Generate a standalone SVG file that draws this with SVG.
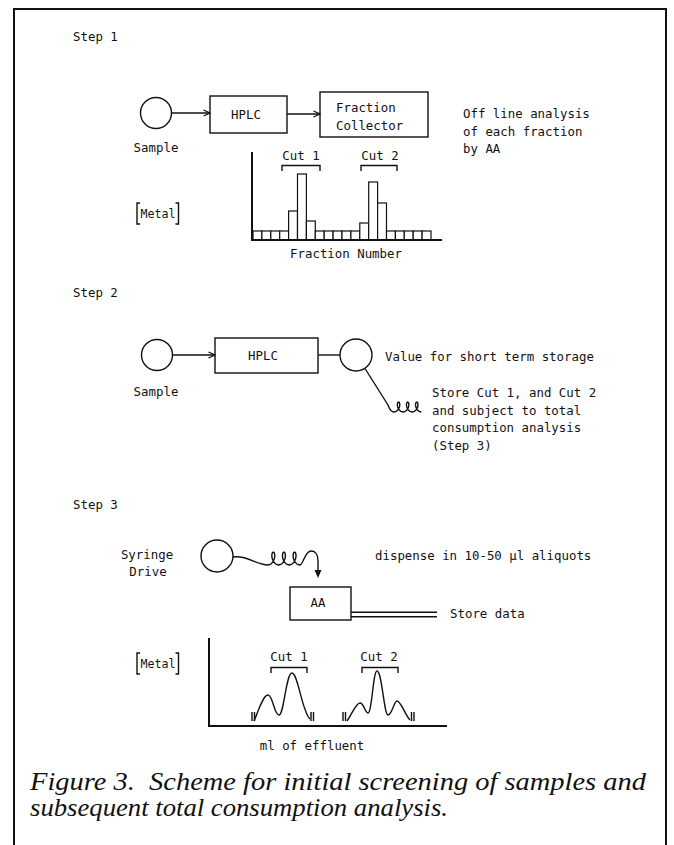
<svg xmlns="http://www.w3.org/2000/svg" width="674" height="845" viewBox="0 0 674 845">
<style>
.t{font-family:"DejaVu Sans Mono","Liberation Mono",monospace;font-size:12.4px;fill:#111}
.m{text-anchor:middle}
.cap{font-family:"Liberation Serif",serif;font-style:italic;font-size:24.5px;fill:#111}
.s{fill:none;stroke:#111;stroke-width:1.4}
.ax{fill:none;stroke:#111;stroke-width:2}
.bar{fill:#fff;stroke:#111;stroke-width:1.2}
</style>
<defs>
<marker id="chev" viewBox="0 0 8 8" refX="7.5" refY="4" markerWidth="8" markerHeight="8" markerUnits="userSpaceOnUse" orient="auto"><path d="M1,1 L7.5,4 L1,7" fill="none" stroke="#111" stroke-width="1.3"/></marker>
</defs>
<rect width="674" height="845" fill="#fff"/>
<path class="ax" d="M14,845 L14,9 L666,9 L666,845"/>

<!-- Step 1 -->
<text class="t" x="73" y="41">Step 1</text>
<g id="s1-sample"><circle class="s" cx="156" cy="113" r="15.5"/><text class="t m" x="156" y="152">Sample</text></g>
<g id="s1-hplc"><rect class="s" x="210" y="96" width="77" height="37"/><text class="t m" x="246" y="119">HPLC</text></g>
<g id="s1-fc"><rect class="s" x="320" y="92" width="108" height="45"/><text class="t" x="336" y="112">Fraction</text><text class="t" x="336" y="130">Collector</text></g>
<g id="s1-note"><text class="t" x="463" y="118">Off line analysis</text><text class="t" x="463" y="135.5">of each fraction</text><text class="t" x="463" y="153">by AA</text></g>
<g id="s1-chart">
<text class="t m" x="301" y="160">Cut 1</text>
<text class="t m" x="380" y="160">Cut 2</text>
<path class="s" d="M282,171 L282,165.5 L320,165.5 L320,171 M361,171 L361,165.5 L397,165.5 L397,171"/>
<path class="s" d="M140,203 L137,203 L137,224 L140,224 M175.5,203 L178.5,203 L178.5,224 L175.5,224"/>
<text class="t" x="140.5" y="218" textLength="35" lengthAdjust="spacingAndGlyphs">Metal</text>
<g>
<rect class="bar" x="253" y="231" width="8.9" height="9"/>
<rect class="bar" x="261.9" y="231" width="8.9" height="9"/>
<rect class="bar" x="270.8" y="231" width="8.9" height="9"/>
<rect class="bar" x="279.7" y="231" width="8.9" height="9"/>
<rect class="bar" x="288.6" y="211" width="8.9" height="29"/>
<rect class="bar" x="297.5" y="174" width="8.9" height="66"/>
<rect class="bar" x="306.4" y="221" width="8.9" height="19"/>
<rect class="bar" x="315.3" y="231" width="8.9" height="9"/>
<rect class="bar" x="324.2" y="231" width="8.9" height="9"/>
<rect class="bar" x="333.1" y="231" width="8.9" height="9"/>
<rect class="bar" x="342" y="231" width="8.9" height="9"/>
<rect class="bar" x="350.9" y="231" width="8.9" height="9"/>
<rect class="bar" x="359.8" y="223" width="8.9" height="17"/>
<rect class="bar" x="368.7" y="182" width="8.9" height="58"/>
<rect class="bar" x="377.6" y="203" width="8.9" height="37"/>
<rect class="bar" x="386.5" y="231" width="8.9" height="9"/>
<rect class="bar" x="395.4" y="231" width="8.9" height="9"/>
<rect class="bar" x="404.3" y="231" width="8.9" height="9"/>
<rect class="bar" x="413.2" y="231" width="8.9" height="9"/>
<rect class="bar" x="422.1" y="231" width="8.9" height="9"/>
</g>
<path class="ax" d="M252,152 L252,240 L442,240"/>
<text class="t m" x="346" y="258">Fraction Number</text>
</g>

<!-- Step 2 -->
<text class="t" x="73" y="297">Step 2</text>
<g id="s2-sample"><circle class="s" cx="157" cy="355" r="15.5"/><text class="t m" x="156" y="396">Sample</text></g>
<g id="s2-hplc"><rect class="s" x="215" y="338" width="103" height="35"/><text class="t m" x="263" y="360">HPLC</text></g>
<g id="s2-valve"><circle class="s" cx="356" cy="355" r="16"/><text class="t" x="385" y="361">Value for short term storage</text></g>
<g id="s2-note"><text class="t" x="432" y="397">Store Cut 1, and Cut 2</text><text class="t" x="432" y="414.5">and subject to total</text><text class="t" x="432" y="432">consumption analysis</text><text class="t" x="432" y="449.5">(Step 3)</text></g>

<!-- Step 3 -->
<text class="t" x="73" y="509">Step 3</text>
<g id="s3-syringe"><circle class="s" cx="217" cy="556" r="16"/><text class="t m" x="147" y="559">Syringe</text><text class="t m" x="148" y="576">Drive</text></g>
<text class="t" x="375" y="560">dispense in 10-50 µl aliquots</text>
<g id="s3-aa"><rect class="s" x="290" y="587" width="61" height="33"/><text class="t m" x="318" y="607">AA</text></g>
<text class="t" x="450" y="618">Store data</text>
<g id="s3-chart">
<text class="t m" x="289" y="661">Cut 1</text>
<text class="t m" x="379" y="661">Cut 2</text>
<path class="s" d="M271,673 L271,667.5 L307,667.5 L307,673 M362,673 L362,667.5 L398,667.5 L398,673"/>
<path class="s" d="M140,653 L137,653 L137,674 L140,674 M175.5,653 L178.5,653 L178.5,674 L175.5,674"/>
<text class="t" x="140.5" y="668" textLength="35" lengthAdjust="spacingAndGlyphs">Metal</text>
<path class="ax" d="M209,638 L209,726 L447,726"/>
<path class="s" d="M254,721 C258,712 263,695 268,695 C273,695 274,715 279,715 C284,715 286,673 292,673 C298,673 302,712 310,719"/>
<path class="s" d="M347,721 C352,714 356,703 360,703 C364,703 365,713 368,713 C372,713 373,671 377,671 C382,671 384,715 388,715 C392,715 394,701 397,701 C401,701 405,715 410,720"/>
<path class="s" d="M252,712 L252,721 M254.5,712 L254.5,721 M311,712 L311,721 M313.5,712 L313.5,721 M343,712 L343,721 M345.5,712 L345.5,721 M411.5,712 L411.5,721 M414,712 L414,721"/>
<text class="t m" x="312" y="750">ml of effluent</text>
</g>

<g id="connectors">
<line class="s" x1="171.5" y1="113" x2="210" y2="113" marker-end="url(#chev)"/>
<line class="s" x1="287" y1="114" x2="320" y2="114" marker-end="url(#chev)"/>
<line class="s" x1="172.5" y1="355" x2="215" y2="355" marker-end="url(#chev)"/>
<line class="s" x1="318" y1="355" x2="340" y2="355"/>
<path class="s" stroke-linejoin="round" d="M365,368.5 L388,405 Q390.5,412 394,412 L396.36,411.33 398.29,409.5 399.48,407 399.81,404.5 399.40,402.67 398.55,402 397.71,402.67 397.30,404.5 397.63,407 398.82,409.5 400.75,411.33 403.11,412 405.47,411.33 407.40,409.5 408.59,407 408.92,404.5 408.51,402.67 407.66,402 406.82,402.67 406.41,404.5 406.74,407 407.93,409.5 409.86,411.33 412.22,412 414.58,411.33 416.51,409.5 417.70,407 418.03,404.5 417.62,402.67 416.77,402 415.93,402.67 415.52,404.5 415.85,407 417.04,409.5 418.97,411.33 421.33,412"/>
<path class="s" stroke-linejoin="round" d="M233,557 C248,555 256,565 268,565 L270.79,564.13 273.06,561.75 274.46,558.5 274.83,555.25 274.33,552.87 273.31,552 272.30,552.87 271.79,555.25 272.17,558.5 273.56,561.75 275.84,564.13 278.62,565 281.41,564.13 283.68,561.75 285.08,558.5 285.45,555.25 284.95,552.87 283.93,552 282.92,552.87 282.41,555.25 282.79,558.5 284.18,561.75 286.46,564.13 289.24,565 292.03,564.13 294.30,561.75 295.70,558.5 296.07,555.25 295.57,552.87 294.55,552 293.54,552.87 293.03,555.25 293.41,558.5 294.80,561.75 297.08,564.13 299.86,565 C303,565 305,551 311,551 C316,551 318,556 318,561 L318,571"/>
<polygon points="318,578 314.5,570 321.5,570" fill="#111"/>
<path class="s" d="M351,612.3 L437,612.3 M351,616.7 L437,616.7"/>
</g>

<text class="cap" x="30" y="790" textLength="616" lengthAdjust="spacingAndGlyphs" xml:space="preserve">Figure 3.  Scheme for initial screening of samples and</text>
<text class="cap" x="30" y="816" textLength="418" lengthAdjust="spacingAndGlyphs">subsequent total consumption analysis.</text>
</svg>
